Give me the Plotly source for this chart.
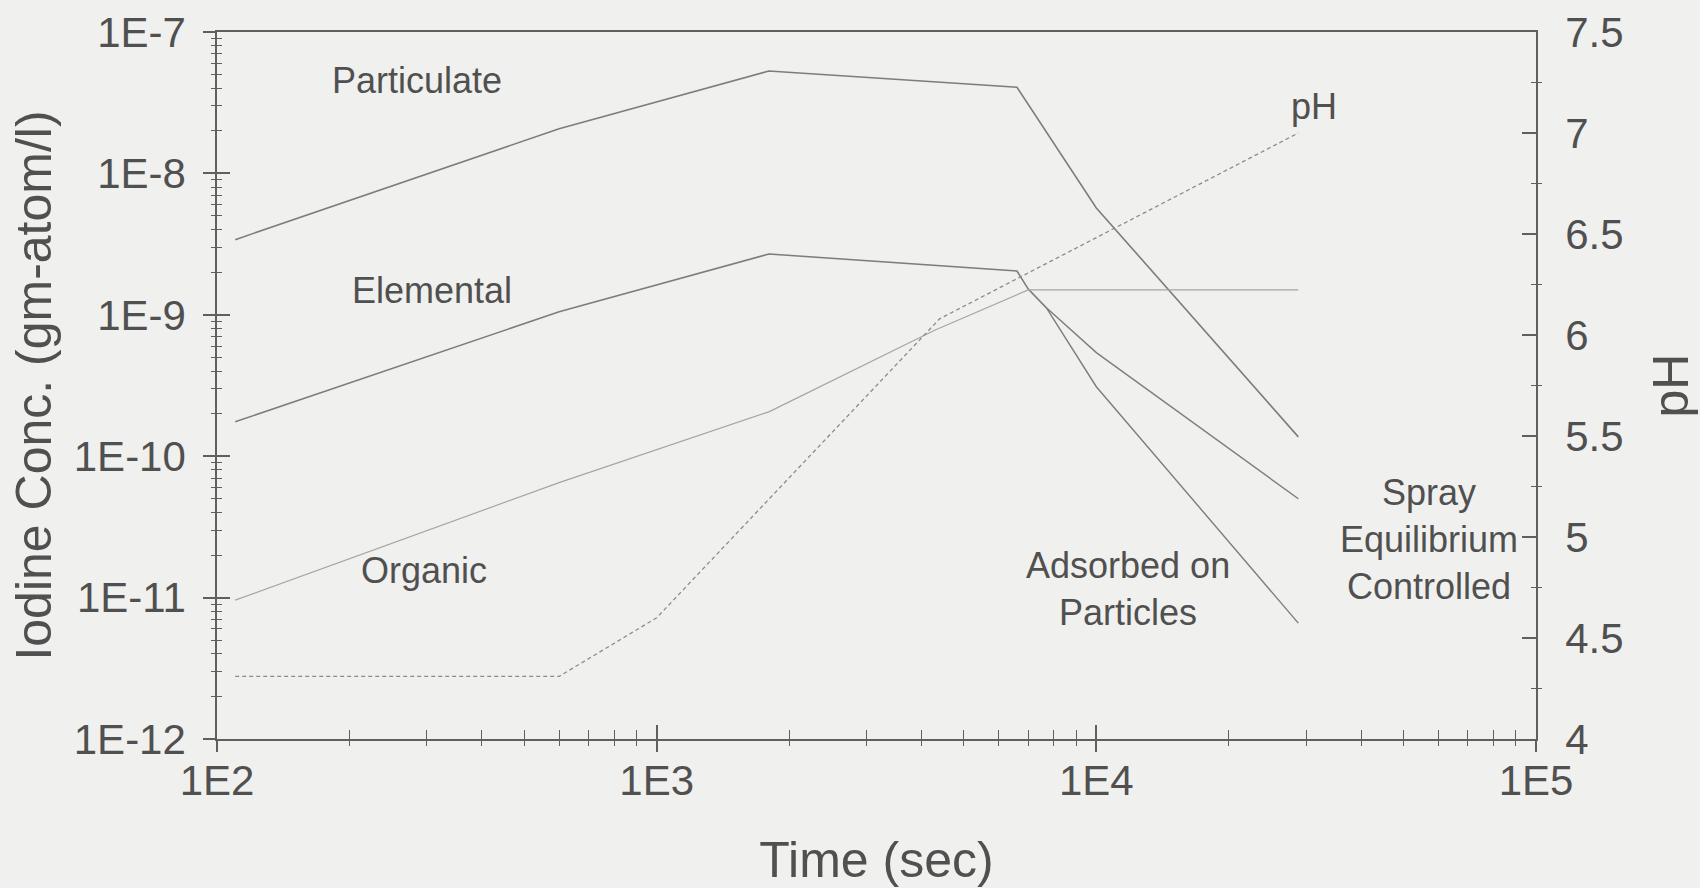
import plotly.graph_objects as go

# ---------------- data ----------------
time_particulate = [110, 600, 1800, 6600, 10000, 28800]
particulate = [3.4e-9, 2.07e-8, 5.3e-8, 4.07e-8, 5.7e-9, 1.37e-10]

time_elemental = [110, 600, 1800, 6600, 7000, 7700]
elemental = [1.75e-10, 1.05e-9, 2.69e-9, 2.04e-9, 1.52e-9, 1.12e-9]

time_spray = [7700, 10000, 28800]
spray_equilibrium = [1.12e-9, 5.4e-10, 5.0e-11]

time_adsorbed = [7700, 10000, 28800]
adsorbed_on_particles = [1.12e-9, 3.1e-10, 6.6e-12]

time_organic = [110, 600, 1800, 4300, 7000, 28800]
organic = [9.6e-12, 6.5e-11, 2.06e-10, 7.8e-10, 1.5e-9, 1.5e-9]

time_ph = [110, 600, 1000, 4400, 28800]
ph = [4.31, 4.31, 4.6, 6.08, 7.0]

x_tick_vals = [1e2, 1e3, 1e4, 1e5]
x_tick_text = ["1E2", "1E3", "1E4", "1E5"]
y_tick_vals = [1e-12, 1e-11, 1e-10, 1e-9, 1e-8, 1e-7]
y_tick_text = ["1E-12", "1E-11", "1E-10", "1E-9", "1E-8", "1E-7"]
ph_tick_vals = [4, 4.5, 5, 5.5, 6, 6.5, 7, 7.5]
ph_tick_text = ["4", "4.5", "5", "5.5", "6", "6.5", "7", "7.5"]
ph_minor_vals = [4.25, 4.75, 5.25, 5.75, 6.25, 6.75, 7.25]

x_minor_vals = [m * 10 ** e for e in range(2, 5) for m in range(2, 10)]
y_minor_vals = [m * 10.0 ** e for e in range(-12, -7) for m in range(2, 10)]

# ---------------- styles ----------------
BG = "rgb(240,240,238)"
TXT = "rgb(80,80,80)"
AX = "rgb(95,95,95)"
DARK = "rgb(125,125,125)"
LIGHT = "rgb(165,165,165)"
FONT = "Liberation Sans, Arial, sans-serif"

fig = go.Figure()

def add_line(x, y, color, width, dash="solid", yaxis="y"):
    fig.add_trace(go.Scatter(x=x, y=y, mode="lines", yaxis=yaxis,
                             line=dict(color=color, width=width, dash=dash),
                             showlegend=False, hoverinfo="skip"))

add_line(time_particulate, particulate, DARK, 1.6)
add_line(time_elemental, elemental, DARK, 1.6)
add_line(time_spray, spray_equilibrium, DARK, 1.4)
add_line(time_adsorbed, adsorbed_on_particles, DARK, 1.4)
add_line(time_organic, organic, LIGHT, 1.2)
add_line(time_ph, ph, "rgb(140,140,140)", 1.3, dash="4px,3px", yaxis="y2")

# empty helper traces so the tick-only overlay axes exist
fig.add_trace(go.Scatter(x=[], y=[], xaxis="x2", yaxis="y3", showlegend=False, hoverinfo="skip"))
fig.add_trace(go.Scatter(x=[], y=[], xaxis="x", yaxis="y4", showlegend=False, hoverinfo="skip"))

tickfont = dict(family=FONT, size=42, color=TXT)
titlefont = dict(family=FONT, size=50, color=TXT)

fig.update_layout(
    width=1700, height=888,
    margin=dict(l=217, r=164, t=32, b=149, autoexpand=False),
    paper_bgcolor=BG, plot_bgcolor=BG,
    font=dict(family=FONT, color=TXT),
    xaxis=dict(type="log", range=[2, 5], tickmode="array", automargin=False,
               tickvals=x_tick_vals, ticktext=x_tick_text,
               ticks="inside", ticklen=14, tickwidth=1.5, tickcolor=AX,
               ticklabelstandoff=4,
               minor=dict(tickmode="array", tickvals=x_minor_vals, ticks="inside",
                          ticklen=9, tickwidth=1.3, tickcolor=AX, showgrid=False),
               showline=True, linecolor=AX, linewidth=1.5, mirror=True,
               showgrid=False, zeroline=False, tickfont=tickfont,
               title=dict(text="Time (sec)", font=titlefont, standoff=40)),
    xaxis2=dict(type="log", range=[2, 5], overlaying="x", anchor="y", side="bottom",
                automargin=False,
                tickmode="array", tickvals=x_tick_vals, showticklabels=False,
                ticks="outside", ticklen=12, tickwidth=1.5, tickcolor=AX,
                minor=dict(tickmode="array", tickvals=x_minor_vals, ticks="outside",
                           ticklen=6, tickwidth=1.3, tickcolor=AX, showgrid=False),
                showline=False, showgrid=False, zeroline=False),
    yaxis=dict(type="log", range=[-12, -7], tickmode="array", automargin=False,
               tickvals=y_tick_vals, ticktext=y_tick_text,
               ticks="outside", ticklen=12, tickwidth=1.5, tickcolor=AX,
               ticklabelstandoff=9,
               minor=dict(tickmode="array", tickvals=y_minor_vals, ticks="outside",
                          ticklen=4, tickwidth=1.2, tickcolor=AX, showgrid=False),
               showline=True, linecolor=AX, linewidth=1.5, mirror=True,
               showgrid=False, zeroline=False, tickfont=tickfont,
               title=dict(text="Iodine Conc. (gm-atom/l)", font=titlefont, standoff=6)),
    yaxis3=dict(type="log", range=[-12, -7], overlaying="y", anchor="x", side="left",
                automargin=False,
                tickmode="array", tickvals=y_tick_vals, showticklabels=False,
                ticks="inside", ticklen=13, tickwidth=1.5, tickcolor=AX,
                minor=dict(tickmode="array", tickvals=y_minor_vals, ticks="inside",
                           ticklen=5, tickwidth=1.2, tickcolor=AX, showgrid=False),
                showline=False, showgrid=False, zeroline=False),
    yaxis2=dict(range=[4, 7.5], overlaying="y", anchor="x", side="right",
                automargin=False,
                tickmode="array", tickvals=ph_tick_vals, ticktext=ph_tick_text,
                ticks="inside", ticklen=14, tickwidth=1.5, tickcolor=AX,
                ticklabelstandoff=19,
                minor=dict(tickmode="array", tickvals=ph_minor_vals, ticks="inside",
                           ticklen=5, tickwidth=1.2, tickcolor=AX, showgrid=False),
                showline=True, linecolor=AX, linewidth=1.5,
                showgrid=False, zeroline=False, tickfont=tickfont,
                title=dict(text="pH", font=titlefont, standoff=30)),
    yaxis4=dict(range=[4, 7.5], overlaying="y", anchor="x", side="right",
                automargin=False,
                tickmode="array", tickvals=ph_minor_vals, showticklabels=False,
                ticks="outside", ticklen=5, tickwidth=1.2, tickcolor=AX,
                showline=False, showgrid=False, zeroline=False),
)

labelfont = dict(family=FONT, size=36, color=TXT)
labels = [
    ("Particulate", 0.1516, 0.9307),
    ("Elemental", 0.163, 0.634),
    ("Organic", 0.1573, 0.239),
    ("Adsorbed on<br>Particles", 0.6907, 0.2122),
    ("Spray<br>Equilibrium<br>Controlled", 0.9189, 0.2815),
    ("pH", 0.8317, 0.894),
]
for text, xp, yp in labels:
    fig.add_annotation(text=text, x=xp, y=yp, xref="paper", yref="paper",
                       showarrow=False, font=labelfont, align="center",
                       xanchor="center", yanchor="middle")

fig.write_html("out.html")
